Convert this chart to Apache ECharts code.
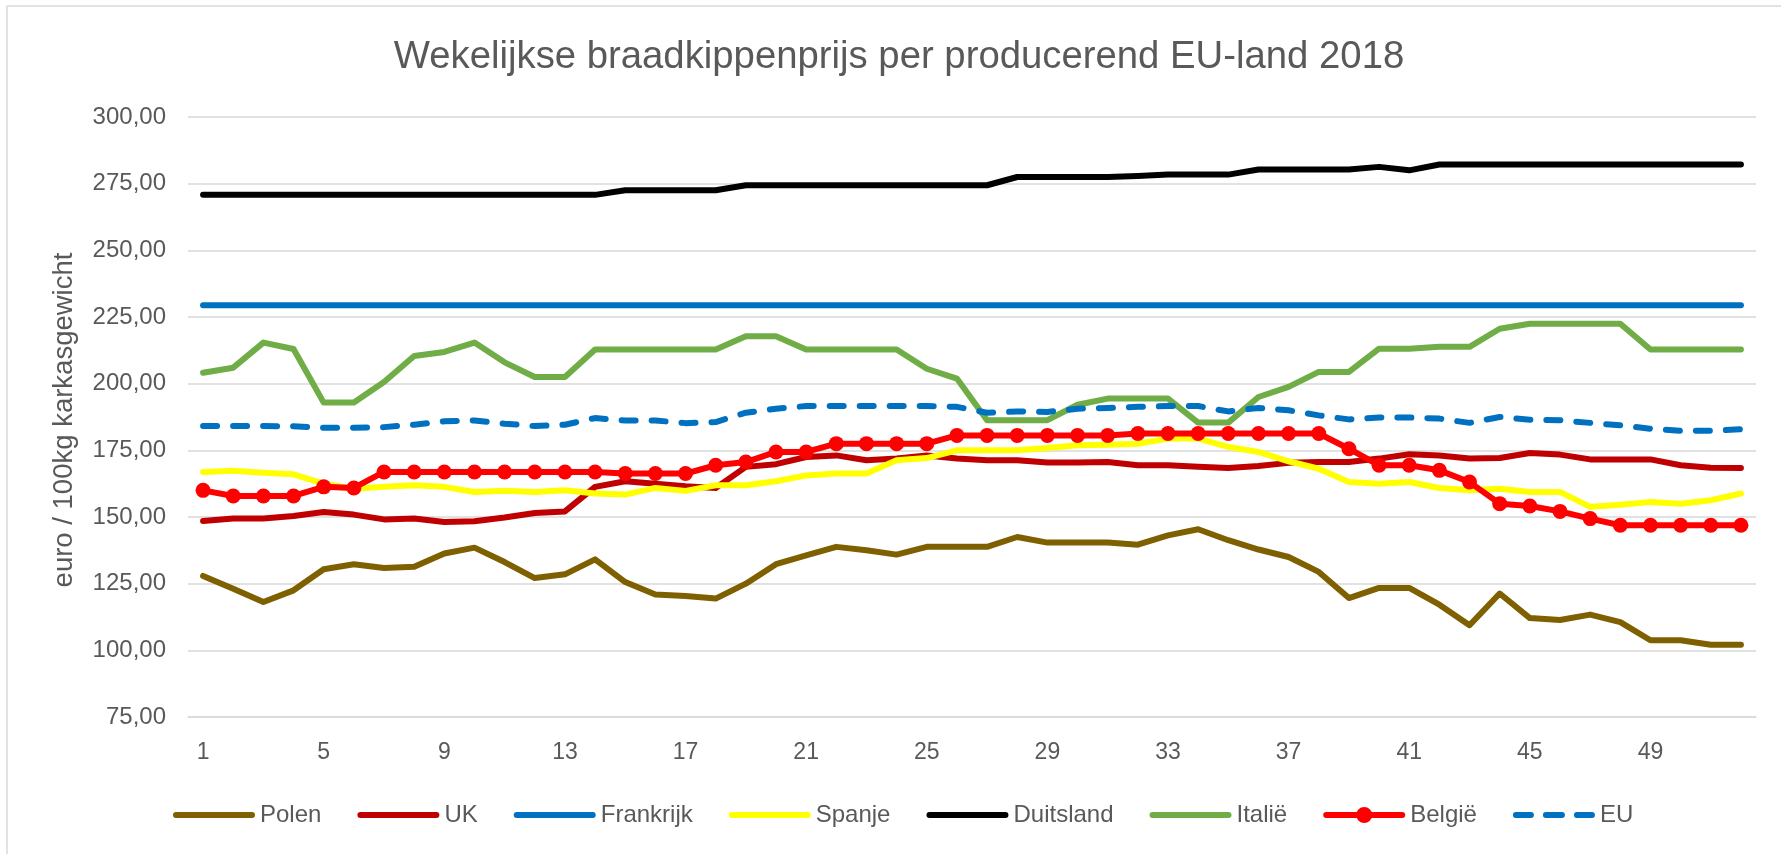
<!DOCTYPE html>
<html>
<head>
<meta charset="utf-8">
<script src="https://cdn.jsdelivr.net/npm/echarts@6/dist/echarts.min.js"></script>
<style>
html,body{margin:0;padding:0;background:#fff;}
#chart{width:1781px;height:854px;}
</style>
</head>
<body>
<div id="chart"></div>
<script>
var weeks = [];
for (var i = 1; i <= 52; i++) weeks.push(String(i));

var polen = [127.9,123.1,118.1,122.5,130.4,132.3,130.9,131.3,136.3,138.5,133.1,127.1,128.5,134.1,125.6,120.9,120.4,119.4,125.0,132.3,
  135.6,138.8,137.5,135.9,138.8,138.8,138.8,142.5,140.4,140.4,140.4,139.6,143.1,145.4,141.3,137.8,135.0,129.4,119.6,123.4,123.4,117.1,109.4,121.3,112.1,111.4,113.4,110.6,103.8,103.8,102.1,102.1];
var uk = [148.5,149.4,149.4,150.4,151.9,150.9,149.1,149.4,148.1,148.4,149.8,151.5,152.1,161.3,163.4,162.5,161.5,160.9,168.8,169.8,
  172.5,173.1,171.3,171.9,173.1,171.9,171.3,171.3,170.4,170.4,170.6,169.4,169.4,168.8,168.4,169.1,170.3,170.6,170.6,171.9,173.5,173.1,171.9,172.1,174.0,173.4,171.6,171.6,171.6,169.4,168.5,168.4];
var frankrijk = [229.4,229.4,229.4,229.4,229.4,229.4,229.4,229.4,229.4,229.4,229.4,229.4,229.4,229.4,229.4,229.4,229.4,229.4,229.4,229.4,229.4,229.4,229.4,229.4,229.4,229.4,
  229.4,229.4,229.4,229.4,229.4,229.4,229.4,229.4,229.4,229.4,229.4,229.4,229.4,229.4,229.4,229.4,229.4,229.4,229.4,229.4,229.4,229.4,229.4,229.4,229.4,229.4];
var spanje = [166.9,167.3,166.6,166.0,162.5,160.6,161.3,161.9,161.3,159.4,159.8,159.4,160.0,158.8,158.4,160.9,159.8,161.9,161.9,163.4,
  165.6,166.3,166.3,171.3,172.1,175.0,175.0,175.0,175.9,176.9,177.1,177.5,179.4,179.4,176.3,174.4,170.9,168.1,163.1,162.5,163.1,160.9,160.0,160.6,159.4,159.4,153.8,154.6,155.6,155.0,156.3,158.8];
var duitsland = [270.8,270.8,270.8,270.8,270.8,270.8,270.8,270.8,270.8,270.8,270.8,270.8,270.8,270.8,272.5,272.5,272.5,272.5,274.4,274.4,
  274.4,274.4,274.4,274.4,274.4,274.4,274.4,277.5,277.5,277.5,277.5,277.9,278.4,278.4,278.4,280.3,280.3,280.3,280.3,281.3,280.0,282.2,282.2,282.2,282.2,282.2,282.2,282.2,282.2,282.2,282.2,282.2];
var italie = [204.1,206.0,215.4,213.0,192.9,192.9,200.6,210.4,211.9,215.4,208.0,202.5,202.5,212.8,212.8,212.8,212.8,212.8,217.8,217.8,
  212.8,212.8,212.8,212.8,205.6,201.9,186.3,186.3,186.3,192.1,194.4,194.4,194.4,185.4,185.4,195.0,198.8,204.4,204.4,213.1,213.1,213.8,213.8,220.6,222.5,222.5,222.5,222.5,212.8,212.8,212.8,212.8];
var belgie = [160.0,157.9,157.9,157.9,161.3,160.9,166.9,166.9,166.9,166.9,166.9,166.9,166.9,166.9,166.3,166.3,166.3,169.4,170.6,174.4,
  174.4,177.5,177.5,177.5,177.5,180.6,180.6,180.6,180.6,180.6,180.6,181.3,181.3,181.3,181.3,181.3,181.3,181.3,175.6,169.4,169.4,167.5,163.1,155.0,154.1,152.1,149.4,146.9,146.9,146.9,146.9,146.9];
var eu = [184.1,184.1,184.1,184.0,183.5,183.5,183.7,184.6,185.9,186.2,185.0,184.1,184.6,187.1,186.2,186.2,185.2,185.6,189.1,190.6,
  191.6,191.6,191.6,191.6,191.6,191.3,189.1,189.6,189.4,190.6,190.9,191.3,191.6,191.6,189.6,190.9,190.0,188.1,186.6,187.3,187.3,186.9,185.3,187.5,186.5,186.3,185.3,184.4,183.1,182.3,182.3,182.9];

var seriesNames = ['Polen', 'UK', 'Frankrijk', 'Spanje', 'Duitsland', 'Italië', 'België', 'EU'];
var titleText = 'Wekelijkse braadkippenprijs per producerend EU-land 2018';
var yAxisTitle = 'euro / 100kg karkasgewicht';

var FONT = "'Liberation Sans', Arial, sans-serif";
var TXT = '#595959';

// legend icon shapes (82 x 16 box; tiny corner dots fix the bounding box)
var BOX = ' M0,0 h0.01 v0.01 h-0.01 Z M82,16 h-0.01 v-0.01 h0.01 Z';
var ICON_LINE = 'path://M3,5 L79,5 A3,3 0 0 1 79,11 L3,11 A3,3 0 0 1 3,5 Z' + BOX;
var ICON_MARK = 'path://M3,5 L34,5 L34,11 L3,11 A3,3 0 0 1 3,5 Z M48,5 L79,5 A3,3 0 0 1 79,11 L48,11 Z M33,8 A8,8 0 1 1 49,8 A8,8 0 1 1 33,8 Z' + BOX;
var ICON_DASH = 'path://M3,5 L18,5 A3,3 0 0 1 18,11 L3,11 A3,3 0 0 1 3,5 Z M33,5 L49,5 A3,3 0 0 1 49,11 L33,11 A3,3 0 0 1 33,5 Z M64,5 L79,5 A3,3 0 0 1 79,11 L64,11 A3,3 0 0 1 64,5 Z' + BOX;

function line(name, data, color, extra) {
  var s = {
    name: name, type: 'line', data: data,
    symbol: 'none', showSymbol: false,
    lineStyle: { color: color, width: 6, cap: 'round', join: 'round' },
    itemStyle: { color: color },
    emphasis: { disabled: true }
  };
  if (extra) for (var k in extra) s[k] = extra[k];
  return s;
}

var legendData = seriesNames.map(function (n) {
  var icon = ICON_LINE;
  if (n === 'België') icon = ICON_MARK;
  if (n === 'EU') icon = ICON_DASH;
  return { name: n, icon: icon };
});

var chart = echarts.init(document.getElementById('chart'), null, { renderer: 'canvas' });
chart.setOption({
  animation: false,
  backgroundColor: '#ffffff',
  title: {
    text: titleText, left: 894, textAlign: 'center', top: 33,
    textStyle: { fontFamily: FONT, fontSize: 38.3, fontWeight: 'normal', color: TXT }
  },
  grid: { left: 188, right: 25, top: 117, bottom: 137, containLabel: false },
  xAxis: {
    type: 'category', data: weeks, boundaryGap: true,
    axisLine: { show: true, lineStyle: { color: '#d9d9d9', width: 1.5 } },
    axisTick: { show: false },
    axisLabel: { interval: 3, color: TXT, fontFamily: FONT, fontSize: 23, margin: 24 },
    splitLine: { show: false }
  },
  yAxis: {
    type: 'value', min: 75, max: 300, interval: 25,
    axisLine: { show: false }, axisTick: { show: false },
    axisLabel: {
      color: TXT, fontFamily: FONT, fontSize: 24, margin: 22,
      formatter: function (v) { return v.toFixed(2).replace('.', ','); }
    },
    splitLine: { lineStyle: { color: '#d9d9d9', width: 1.5 } }
  },
  legend: {
    left: 168, top: 798, itemWidth: 82, itemHeight: 16, itemGap: 36,
    textStyle: { fontFamily: FONT, fontSize: 24, color: TXT },
    data: legendData
  },
  graphic: [
    { type: 'line', shape: { x1: 7, y1: 6, x2: 1781, y2: 6 }, style: { stroke: '#d9d9d9', lineWidth: 1.5 } },
    { type: 'line', shape: { x1: 7, y1: 6, x2: 7, y2: 854 }, style: { stroke: '#d9d9d9', lineWidth: 1.5 } },
    {
      type: 'text', x: 64, y: 420, rotation: Math.PI / 2,
      style: {
        text: yAxisTitle, fontFamily: FONT, fontSize: 27.5, fill: TXT,
        align: 'center', verticalAlign: 'middle', textAlign: 'center', textVerticalAlign: 'middle'
      }
    }
  ],
  series: [
    line('Polen', polen, '#7F6000'),
    line('UK', uk, '#C00000'),
    line('Frankrijk', frankrijk, '#0070C0'),
    line('Spanje', spanje, '#FFFF00'),
    line('Duitsland', duitsland, '#000000'),
    line('Italië', italie, '#70AD47'),
    line('België', belgie, '#FF0000', { symbol: 'circle', showSymbol: true, symbolSize: 15 }),
    line('EU', eu, '#0070C0', { lineStyle: { color: '#0070C0', width: 6, type: [14, 16], cap: 'round', join: 'round' } })
  ]
});
</script>
</body>
</html>
